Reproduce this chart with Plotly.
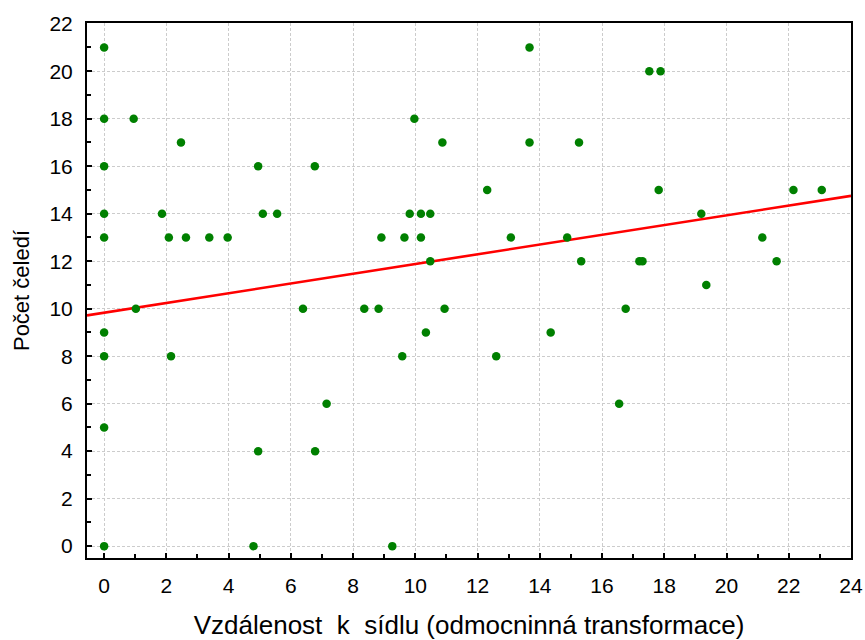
import plotly.graph_objects as go

# Distance to settlement (square-root transformed) and number of families
distance = [
    0, 0, 0, 0, 0, 0, 0, 0, 0,
    0.95, 1.02, 1.86, 2.08, 2.15, 2.47, 2.63, 3.38, 3.97,
    4.80, 4.95, 4.95, 5.10, 5.56, 6.39, 6.77, 6.78, 7.15,
    8.36, 8.82, 8.91, 9.26, 9.58, 9.65, 9.82, 9.97, 10.18, 10.18,
    10.34, 10.48, 10.48, 10.87, 10.94, 12.31, 12.60, 13.07, 13.67, 13.67,
    14.35, 14.88, 15.26, 15.33, 16.55, 16.76, 17.20, 17.30, 17.52, 17.88,
    17.82, 19.19, 19.35, 21.15, 21.61, 22.15, 23.06,
]
families = [
    21, 18, 16, 14, 13, 9, 8, 5, 0,
    18, 10, 14, 13, 8, 17, 13, 13, 13,
    0, 16, 4, 14, 14, 10, 16, 4, 6,
    10, 10, 13, 0, 8, 13, 14, 18, 13, 14,
    9, 14, 12, 17, 10, 15, 8, 13, 21, 17,
    9, 13, 17, 12, 6, 10, 12, 12, 20, 20,
    15, 14, 11, 13, 12, 15, 15,
]

# Linear regression line: families = intercept + slope * distance
fit_intercept = 9.83
fit_slope = 0.205

x_ticks = list(range(0, 25, 2))
y_ticks = list(range(0, 23, 2))
x_range = [-0.55, 24.0]
y_range = [-0.5, 22.03]

fit_x = [x_range[0], x_range[1]]
fit_y = [fit_intercept + fit_slope * v for v in fit_x]

fig = go.Figure()
fig.add_trace(go.Scatter(
    x=fit_x, y=fit_y, mode="lines",
    line=dict(color="#ff0000", width=2.6),
    hoverinfo="skip", showlegend=False,
))
fig.add_trace(go.Scatter(
    x=distance, y=families, mode="markers",
    marker=dict(color="#008000", size=8.5, line=dict(width=0)),
    showlegend=False,
))

font_family = "Liberation Sans, Arial, sans-serif"
axis_common = dict(
    showline=True, linecolor="black", linewidth=2, mirror=True,
    showgrid=True, gridcolor="#cccccc", gridwidth=1, griddash="3px,2px",
    zeroline=False,
    ticks="inside", ticklen=5, tickwidth=2, tickcolor="black",
    minor=dict(ticks="inside", ticklen=4, tickwidth=2, tickcolor="black",
               dtick=1, showgrid=False),
    tickfont=dict(family=font_family, size=21, color="black"),
    ticklabelstandoff=8,
)

fig.update_xaxes(
    range=x_range, tickvals=x_ticks, ticktext=[str(v) for v in x_ticks],
    title=dict(text="Vzdálenost\u00a0 k\u00a0 sídlu (odmocninná transformace)",
               font=dict(family=font_family, size=26, color="black"),
               standoff=21),
    **axis_common,
)
fig.update_yaxes(
    range=y_range, tickvals=y_ticks, ticktext=[str(v) for v in y_ticks],
    title=dict(text="Počet čeledí",
               font=dict(family=font_family, size=22, color="black"),
               standoff=14),
    **axis_common,
)

fig.update_layout(
    width=865, height=640,
    margin=dict(l=87, r=14, t=23, b=82, autoexpand=False),
    plot_bgcolor="white", paper_bgcolor="white",
)

fig.write_html("out.html")
